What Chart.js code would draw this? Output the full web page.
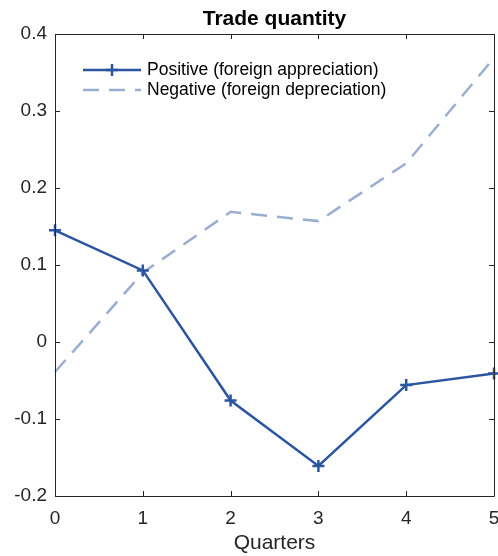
<!DOCTYPE html>
<html>
<head>
<meta charset="utf-8">
<title>Trade quantity</title>
<script src="https://cdn.jsdelivr.net/npm/chart.js@4/dist/chart.umd.min.js"></script>
<style>
  html, body { margin: 0; padding: 0; background: #ffffff; }
  #wrap { width: 498px; height: 556px; }
</style>
</head>
<body>
<div id="wrap"><canvas id="chart-trade"></canvas></div>
<script>
// ── Data ───────────────────────────────────────────────────────
const quarters  = [0, 1, 2, 3, 4, 5];
const positive  = [0.145, 0.093, -0.076, -0.161, -0.056, -0.041];
const negative  = [-0.039, 0.090, 0.169, 0.157, 0.232, 0.369];
const yTicks    = [-0.2, -0.1, 0, 0.1, 0.2, 0.3, 0.4];
const titleText = 'Trade quantity';
const labelPos  = 'Positive (foreign appreciation)';
const labelNeg  = 'Negative (foreign depreciation)';

const FONT     = "'Liberation Sans', Arial, Helvetica, sans-serif";
const AXIS_INK = '#262626';
const COL_POS  = '#2b55a0';
const COL_NEG  = '#99aed1';
const DASH     = [16, 10];

const toPoints = (ys) => quarters.map((q, i) => ({ x: q, y: ys[i] }));

// ── Title centred over the plot box (MATLAB style) ─────────────
const axesTitle = {
  id: 'axesTitle',
  afterDraw(chart) {
    const { ctx, chartArea: a } = chart;
    ctx.save();
    ctx.fillStyle = '#000000';
    ctx.font = `bold 21px ${FONT}`;
    ctx.textAlign = 'center';
    ctx.textBaseline = 'alphabetic';
    ctx.fillText(titleText, (a.left + a.right) / 2, a.top - 9);
    ctx.restore();
  },
};

// ── MATLAB-ish box with inward ticks on all four sides ─────────
const boxAxes = {
  id: 'boxAxes',
  afterDatasetsDraw(chart) {
    const { ctx, chartArea: a, scales: { x, y } } = chart;
    const len = 5;
    ctx.save();
    ctx.strokeStyle = AXIS_INK;
    ctx.lineWidth = 1;
    ctx.beginPath();
    ctx.rect(a.left + 0.5, a.top + 0.5, a.right - a.left, a.bottom - a.top);
    x.ticks.forEach((t) => {
      const px = Math.round(x.getPixelForValue(t.value)) + 0.5;
      ctx.moveTo(px, a.bottom); ctx.lineTo(px, a.bottom - len);
      ctx.moveTo(px, a.top);    ctx.lineTo(px, a.top + len);
    });
    y.ticks.forEach((t) => {
      const py = Math.round(y.getPixelForValue(t.value)) + 0.5;
      ctx.moveTo(a.left, py);  ctx.lineTo(a.left + len, py);
      ctx.moveTo(a.right, py); ctx.lineTo(a.right - len, py);
    });
    ctx.stroke();
    ctx.restore();
  },
};

// ── Legend drawn inside the plot, top-left ─────────────────────
const innerLegend = {
  id: 'innerLegend',
  afterDraw(chart) {
    const { ctx, chartArea: a } = chart;
    const x0 = a.left + 28, x1 = a.left + 86, tx = a.left + 92;
    const rows = [a.top + 36, a.top + 56];
    ctx.save();
    chart.data.datasets.forEach((ds, i) => {
      const yy = rows[i];
      ctx.strokeStyle = ds.borderColor;
      ctx.lineWidth = ds.borderWidth;
      ctx.setLineDash(ds.borderDash || []);
      ctx.beginPath();
      ctx.moveTo(x0, yy); ctx.lineTo(x1, yy);
      ctx.stroke();
      ctx.setLineDash([]);
      if (ds.pointStyle === 'cross') {
        const cx = (x0 + x1) / 2;
        ctx.lineWidth = ds.pointBorderWidth;
        ctx.beginPath();
        ctx.moveTo(cx - 6, yy); ctx.lineTo(cx + 6, yy);
        ctx.moveTo(cx, yy - 6); ctx.lineTo(cx, yy + 6);
        ctx.stroke();
      }
      ctx.fillStyle = '#000000';
      ctx.font = `17.5px ${FONT}`;
      ctx.textBaseline = 'middle';
      ctx.fillText(ds.label, tx, yy);
    });
    ctx.restore();
  },
};

new Chart(document.getElementById('chart-trade'), {
  type: 'line',
  data: {
    datasets: [
      {
        label:            labelPos,
        data:             toPoints(positive),
        borderColor:      COL_POS,
        backgroundColor:  COL_POS,
        borderWidth:      2.5,
        pointStyle:       'cross',
        pointRadius:      6,
        pointBorderWidth: 2.5,
        pointBorderColor: COL_POS,
        tension:          0,
        clip:             false,
        order:            1,
      },
      {
        label:           labelNeg,
        data:            toPoints(negative),
        borderColor:     COL_NEG,
        backgroundColor: COL_NEG,
        borderWidth:     2.5,
        borderDash:      DASH,
        pointRadius:     0,
        tension:         0,
        clip:            false,
        order:           2,
      },
    ],
  },
  options: {
    responsive:          true,
    maintainAspectRatio: false,
    animation:           false,
    layout: { autoPadding: false, padding: { left: 0, right: 4, top: 34, bottom: 0 } },
    plugins: {
      legend:  { display: false },
      tooltip: { enabled: false },
      title:   { display: false },
    },
    scales: {
      x: {
        type: 'linear',
        min:  0,
        max:  5,
        grid:   { display: false, drawTicks: false },
        border: { display: false },
        ticks: {
          stepSize:    1,
          color:       AXIS_INK,
          padding:     11,
          maxRotation: 0,
          font:        { family: FONT, size: 19 },
        },
        title: {
          display: true,
          text:    'Quarters',
          color:   AXIS_INK,
          font:    { family: FONT, size: 21 },
          padding: { top: 0, bottom: 0 },
        },
        afterFit: (s) => { s.height = 60; s.paddingRight = 0; },
      },
      y: {
        min:  -0.2,
        max:  0.4,
        grid:   { display: false, drawTicks: false },
        border: { display: false },
        afterBuildTicks: (s) => { s.ticks = yTicks.map((v) => ({ value: v })); },
        ticks: {
          color:    AXIS_INK,
          padding:  8,
          font:     { family: FONT, size: 19 },
          callback: (v) => (v === 0 ? '0' : String(Math.round(v * 10) / 10)),
        },
        afterFit: (s) => { s.width = 55; s.paddingTop = 0; },
      },
    },
  },
  plugins: [boxAxes, innerLegend, axesTitle],
});
</script>
</body>
</html>
